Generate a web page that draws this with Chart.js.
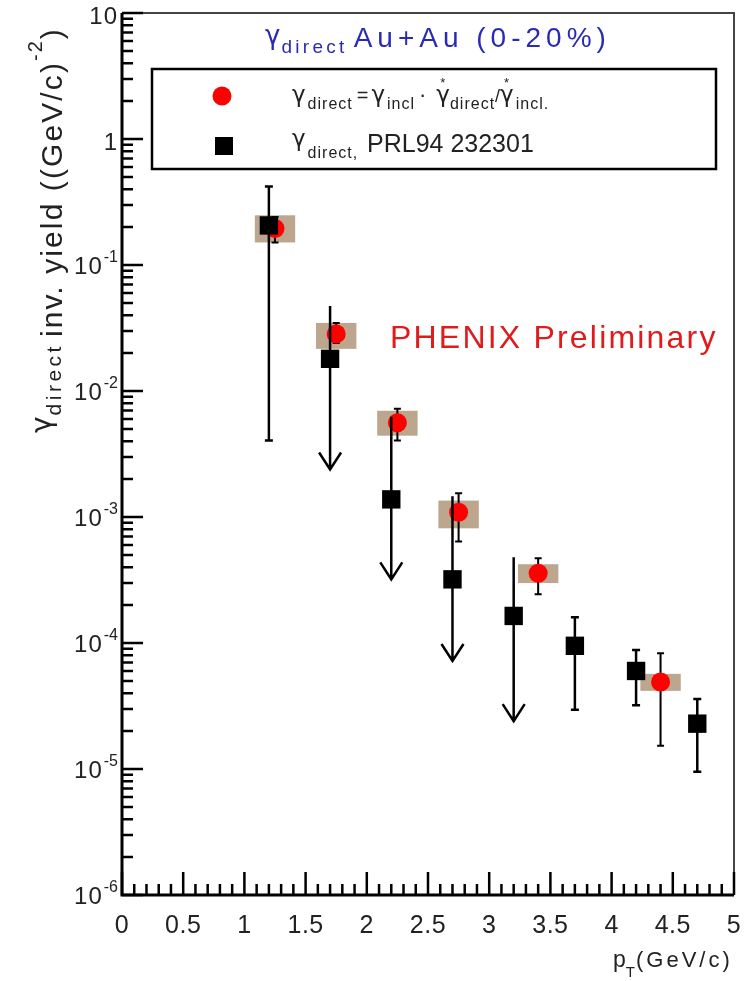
<!DOCTYPE html>
<html>
<head>
<meta charset="utf-8">
<script src="https://cdn.jsdelivr.net/npm/chart.js@4.4.0/dist/chart.umd.min.js"></script>
<style>
  html, body { margin: 0; padding: 0; background: #fff; }
  #wrap { width: 747px; height: 981px; }
</style>
</head>
<body>
<div id="wrap"><canvas id="yieldChart" width="747" height="981"></canvas></div>
<script>
// red: gamma_direct = gamma_incl * double ratio
const redPt = [1.25, 1.75, 2.25, 2.75, 3.4, 4.4];
const redYield = [0.195, 0.0284, 0.0056, 0.00109, 0.000358, 4.9e-5];
const redErrLo = [0.151, 0.024, 0.00404, 0.00064, 0.000244, 1.53e-5];
const redErrHi = [0.24, 0.0347, 0.00723, 0.00154, 0.00047, 8.3e-5];
const redSysLo = [0.151, 0.0216, 0.00442, 0.000813, 0.000299, 4.17e-5];
const redSysHi = [0.248, 0.0347, 0.00697, 0.00135, 0.000422, 5.69e-5];

// black: PRL94 232301
const blackPt = [1.2, 1.7, 2.2, 2.7, 3.2, 3.7, 4.2, 4.7];
const blackYield = [0.206, 0.018, 0.00138, 0.00032, 0.000164, 9.5e-5, 6.0e-5, 2.29e-5];
const blackErrHi = [0.42, 0.0472, 0.00625, 0.00146, 0.00048, 0.00016, 8.8e-5, 3.6e-5];
const blackErrLo = [0.00404, 0.00238, 0.00032, 7.2e-5, 2.4e-5, 2.95e-5, 3.2e-5, 9.5e-6];
const blackUpperLimit = [false, true, true, true, true, false, false, false];

// axis ticks
const xTicks = [0, 0.5, 1, 1.5, 2, 2.5, 3, 3.5, 4, 4.5, 5];
const xTickLabels = ['0', '0.5', '1', '1.5', '2', '2.5', '3', '3.5', '4', '4.5', '5'];
const yTicks = [1e-6, 1e-5, 1e-4, 1e-3, 1e-2, 1e-1, 1, 10];
const yTickBase = ['10', '10', '10', '10', '10', '10', '1', '10'];
const yTickExp = ['-6', '-5', '-4', '-3', '-2', '-1', '', ''];

const sysHalfWidth = 0.165;
const FONT = '"Liberation Sans", Arial, sans-serif';
const GREEK = '"DejaVu Sans", sans-serif';

function rich(ctx, x, y, parts, color) {
    let cx = x;
    ctx.fillStyle = color;
    ctx.textAlign = 'left';
    ctx.textBaseline = 'alphabetic';
    for (const p of parts) {
        const fam = p.t === 'γ' ? GREEK : FONT;
        ctx.font = p.size + 'px ' + fam;
        ctx.letterSpacing = (p.sp || 0) + 'px';
        if (p.t) ctx.fillText(p.t, cx, y + (p.dy || 0));
        const w = ctx.measureText(p.t || '').width;
        if (p.star) {
            ctx.font = '13px ' + FONT;
            ctx.letterSpacing = '0px';
            ctx.fillText('*', cx + w / 2 - 3, y + (p.dy || 0) - 15);
        }
        cx += w + (p.dx || 0);
    }
    ctx.letterSpacing = '0px';
    return cx;
}

function errBar(ctx, px, yTop, yBot, cap) {
    ctx.beginPath();
    ctx.moveTo(px, yTop); ctx.lineTo(px, yBot);
    ctx.moveTo(px - cap, yTop); ctx.lineTo(px + cap, yTop);
    ctx.moveTo(px - cap, yBot); ctx.lineTo(px + cap, yBot);
    ctx.stroke();
}

const decor = {
    id: 'decor',
    beforeDatasetsDraw(chart) {
        const { ctx, scales: { x, y } } = chart;
        ctx.save();
        ctx.fillStyle = '#bca68e';
        redPt.forEach((v, i) => {
            const x0 = x.getPixelForValue(v - sysHalfWidth);
            const x1 = x.getPixelForValue(v + sysHalfWidth);
            const y0 = y.getPixelForValue(redSysHi[i]);
            const y1 = y.getPixelForValue(redSysLo[i]);
            ctx.fillRect(x0, y0, x1 - x0, y1 - y0);
        });
        ctx.strokeStyle = '#000';
        ctx.lineWidth = 2;
        redPt.forEach((v, i) => {
            errBar(ctx, x.getPixelForValue(v), y.getPixelForValue(redErrHi[i]),
                y.getPixelForValue(redErrLo[i]), 3.5);
        });
        ctx.restore();
    },
    afterDatasetDraw(chart, args) {
        if (args.index !== 1) return;
        const { ctx, scales: { x, y } } = chart;
        ctx.save();
        ctx.strokeStyle = '#000';
        ctx.lineWidth = 2.5;
        blackPt.forEach((v, i) => {
            const px = x.getPixelForValue(v);
            const top = y.getPixelForValue(blackErrHi[i]);
            const bot = y.getPixelForValue(blackErrLo[i]);
            if (blackUpperLimit[i]) {
                ctx.beginPath();
                ctx.moveTo(px, top); ctx.lineTo(px, bot);
                ctx.moveTo(px - 11, bot - 17); ctx.lineTo(px, bot); ctx.lineTo(px + 11, bot - 17);
                ctx.stroke();
            } else {
                errBar(ctx, px, top, bot, 4);
            }
        });
        ctx.restore();
    },
    afterDraw(chart) {
        const { ctx, chartArea: a, scales: { x, y } } = chart;
        ctx.save();

        // frame
        ctx.strokeStyle = '#444';
        ctx.lineWidth = 2;
        ctx.beginPath();
        ctx.moveTo(a.left, a.top); ctx.lineTo(a.right, a.top); ctx.lineTo(a.right, a.bottom);
        ctx.stroke();
        ctx.strokeStyle = '#000';
        ctx.lineWidth = 3;
        ctx.beginPath();
        ctx.moveTo(a.left, a.top); ctx.lineTo(a.left, a.bottom); ctx.lineTo(a.right, a.bottom);
        ctx.stroke();

        // y ticks
        ctx.lineWidth = 2.5;
        ctx.beginPath();
        for (let d = -6; d <= 0; d++) {
            for (let m = 1; m <= 9; m++) {
                const py = y.getPixelForValue(m * Math.pow(10, d));
                ctx.moveTo(a.left, py); ctx.lineTo(a.left + (m === 1 ? 21 : 11), py);
            }
        }
        ctx.moveTo(a.left, a.top); ctx.lineTo(a.left + 21, a.top);
        // x ticks
        for (let k = 0; k <= 50; k++) {
            const px = x.getPixelForValue(k / 10);
            ctx.moveTo(px, a.bottom); ctx.lineTo(px, a.bottom - (k % 5 === 0 ? 23 : 11));
        }
        ctx.stroke();

        // tick labels
        ctx.fillStyle = '#222';
        ctx.textBaseline = 'alphabetic';
        ctx.font = '25px ' + FONT;
        ctx.letterSpacing = '0.5px';
        ctx.textAlign = 'center';
        xTicks.forEach((v, i) => ctx.fillText(xTickLabels[i], x.getPixelForValue(v), a.bottom + 38));
        ctx.textAlign = 'right';
        yTicks.forEach((v, i) => {
            const py = y.getPixelForValue(v);
            let right = 118;
            if (yTickExp[i]) {
                ctx.font = '16px ' + FONT;
                ctx.letterSpacing = '0px';
                ctx.fillText(yTickExp[i], right, py - 3);
                right -= ctx.measureText(yTickExp[i]).width + 1;
            }
            ctx.font = '24px ' + FONT;
            ctx.letterSpacing = '1px';
            ctx.fillText(yTickBase[i], right, py + (yTickExp[i] ? 9 : 11));
        });
        ctx.letterSpacing = '0px';

        // axis titles
        rich(ctx, 613, 967, [
            { t: 'p', size: 23 },
            { t: 'T', size: 15, dy: 10, dx: 1 },
            { t: '(GeV/c)', size: 22, sp: 3 }
        ], '#222');

        ctx.save();
        ctx.translate(62, 433);
        ctx.rotate(-Math.PI / 2);
        rich(ctx, 0, 0, [
            { t: 'γ', size: 28, dy: -11, dx: 1 },
            { t: 'direct', size: 21, dy: -1, sp: 3.5, dx: 6 },
            { t: 'inv. yield ((GeV/c)', size: 30, sp: 2.1 },
            { t: '-2', size: 20, dy: -20, sp: 2 },
            { t: ')', size: 30 }
        ], '#222');
        ctx.restore();

        // title
        rich(ctx, 265, 44, [
            { t: 'γ', size: 26, dx: 1 },
            { t: 'direct', size: 19, dy: 9, sp: 3.3, dx: 6 },
            { t: 'Au+Au (0-20%)', size: 28, dy: 3, sp: 5 }
        ], '#2a2ab4');

        // legend
        ctx.fillStyle = '#fff';
        ctx.fillRect(152, 69, 564, 100);
        ctx.strokeStyle = '#000';
        ctx.lineWidth = 2.5;
        ctx.strokeRect(152, 69, 564, 100);
        ctx.fillStyle = '#f00';
        ctx.beginPath();
        ctx.arc(222, 96, 9.5, 0, Math.PI * 2);
        ctx.fill();
        ctx.fillStyle = '#000';
        ctx.fillRect(215, 137, 18, 18);

        rich(ctx, 292, 102, [
            { t: 'γ', size: 23, dx: 2 },
            { t: 'direct', size: 16, dy: 7, sp: 1, dx: 4 },
            { t: '=', size: 20, dx: 3 },
            { t: 'γ', size: 23, dx: 2 },
            { t: 'incl', size: 16, dy: 7, sp: 1, dx: 4 },
            { t: '·', size: 22, dx: 10 },
            { t: 'γ', size: 23, star: true },
            { t: 'direct', size: 16, dy: 7, sp: 1 },
            { t: '/', size: 18 },
            { t: 'γ', size: 23, star: true, dx: 2 },
            { t: 'incl.', size: 16, dy: 7, sp: 1 }
        ], '#222');
        rich(ctx, 292, 146, [
            { t: 'γ', size: 23, dx: 2 },
            { t: 'direct,', size: 16, dy: 12, sp: 1 }
        ], '#222');
        rich(ctx, 367, 152, [{ t: 'PRL94 232301', size: 25 }], '#222');

        // preliminary label
        rich(ctx, 390, 348, [{ t: 'PHENIX Preliminary', size: 32, sp: 2.2 }], '#e01b1b');

        ctx.restore();
    }
};

new Chart(document.getElementById('yieldChart'), {
    type: 'scatter',
    data: {
        datasets: [{
            label: 'PRL94 232301',
            data: blackPt.map((v, i) => ({ x: v, y: blackYield[i] })),
            pointStyle: 'rect',
            pointRadius: 13,
            backgroundColor: '#000',
            borderWidth: 0,
            clip: false
        }, {
            label: 'double ratio',
            data: redPt.map((v, i) => ({ x: v, y: redYield[i] })),
            pointStyle: 'circle',
            pointRadius: 9.5,
            backgroundColor: '#f00',
            borderWidth: 0,
            clip: false
        }]
    },
    options: {
        responsive: false,
        animation: false,
        events: [],
        layout: {
            padding: { left: 122, right: 9, top: 10, bottom: 86 }
        },
        plugins: {
            legend: { display: false },
            tooltip: { enabled: false }
        },
        scales: {
            x: { type: 'linear', min: 0, max: 5, display: false },
            y: { type: 'logarithmic', min: 1e-6, max: 10, display: false }
        }
    },
    plugins: [decor]
});
</script>
</body>
</html>
